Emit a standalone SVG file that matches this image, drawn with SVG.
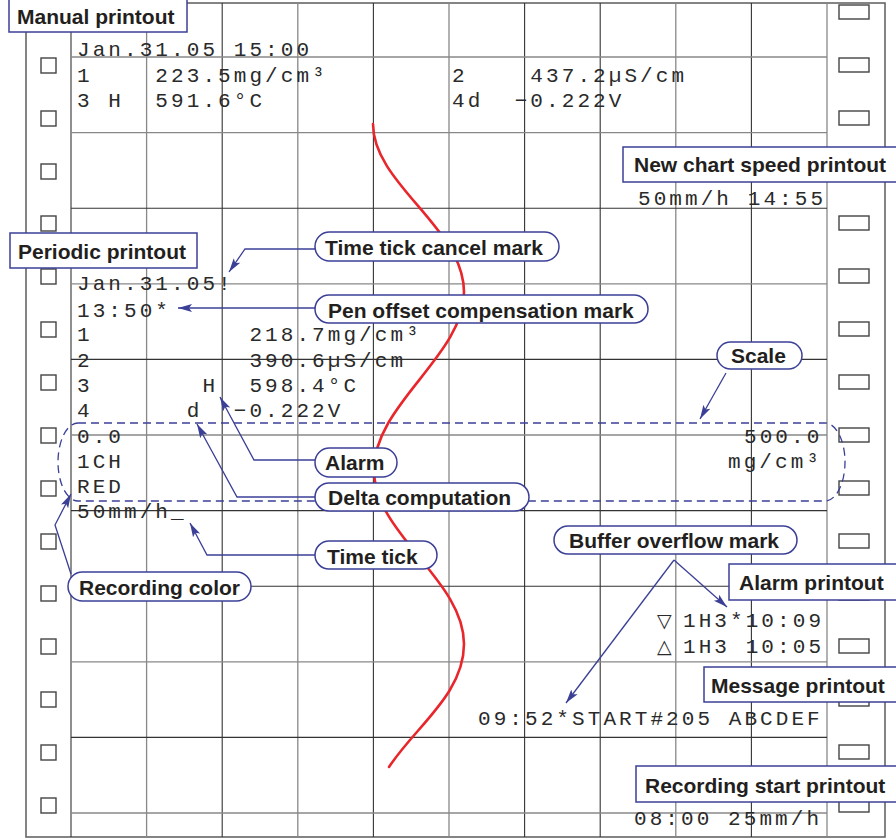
<svg xmlns="http://www.w3.org/2000/svg" width="896" height="839" viewBox="0 0 896 839">
<style>
.bg{fill:#fff}
.frame{fill:none;stroke:#666;stroke-width:1.6}
.gd{stroke:#333;stroke-width:1.1}
.gl{stroke:#888;stroke-width:1.3}
.hole{fill:#fff;stroke:#444;stroke-width:1.4}
.pen{fill:none;stroke:#e8262b;stroke-width:2.6;stroke-linecap:round}
.mono{font-family:"Liberation Mono","Courier New",monospace;font-size:21px;letter-spacing:3.07px;fill:#2a2a2a}
.sym{font-family:"DejaVu Sans",sans-serif;font-size:19px;fill:#2a2a2a}
.lbl{font-family:"Liberation Sans",Arial,sans-serif;font-weight:bold;font-size:21px;fill:#231f20}
.box{fill:#fff;stroke:#3b3f96;stroke-width:1.5}
.lead{fill:none;stroke:#3b3f96;stroke-width:1.3}
.dash{fill:none;stroke:#3b3f96;stroke-width:1.3;stroke-dasharray:8 5}
</style>
<defs>
<marker id="arr" viewBox="0 0 14 10" refX="14" refY="5" markerWidth="14" markerHeight="10" markerUnits="userSpaceOnUse" orient="auto">
<path d="M0,1 L14,5 L0,9 L3,5 z" fill="#3b3f96"/>
</marker>
</defs>
<rect class="bg" x="0" y="0" width="896" height="839"/>
<g id="chart-paper">
<rect class="frame" x="26" y="3" width="859" height="834"/>
<g id="grid-vertical">
<line class="gd" x1="71" y1="3" x2="71" y2="837"/>
<line class="gl" x1="146.6" y1="3" x2="146.6" y2="837"/>
<line class="gd" x1="222.2" y1="3" x2="222.2" y2="837"/>
<line class="gl" x1="297.8" y1="3" x2="297.8" y2="837"/>
<line class="gd" x1="373.4" y1="3" x2="373.4" y2="837"/>
<line class="gl" x1="449" y1="3" x2="449" y2="837"/>
<line class="gd" x1="524.6" y1="3" x2="524.6" y2="837"/>
<line class="gd" x1="600.2" y1="3" x2="600.2" y2="837"/>
<line class="gl" x1="675.8" y1="3" x2="675.8" y2="837"/>
<line class="gd" x1="751.4" y1="3" x2="751.4" y2="837"/>
<line class="gl" x1="827" y1="3" x2="827" y2="837"/>
</g>
<g id="grid-horizontal">
<line class="gl" x1="71" y1="57" x2="827" y2="57"/>
<line class="gl" x1="71" y1="132.6" x2="827" y2="132.6"/>
<line class="gd" x1="71" y1="208.2" x2="827" y2="208.2"/>
<line class="gl" x1="71" y1="283.8" x2="827" y2="283.8"/>
<line class="gd" x1="71" y1="359.4" x2="827" y2="359.4"/>
<line class="gl" x1="71" y1="435" x2="827" y2="435"/>
<line class="gd" x1="71" y1="510.6" x2="827" y2="510.6"/>
<line class="gd" x1="71" y1="586.2" x2="827" y2="586.2"/>
<line class="gl" x1="71" y1="661.8" x2="827" y2="661.8"/>
<line class="gd" x1="71" y1="737.4" x2="827" y2="737.4"/>
<line class="gl" x1="71" y1="813" x2="827" y2="813"/>
</g>
<g id="holes-left">
<rect class="hole" x="41" y="5" width="15" height="15"/>
<rect class="hole" x="41" y="58" width="15" height="15"/>
<rect class="hole" x="41" y="111" width="15" height="15"/>
<rect class="hole" x="41" y="164" width="15" height="15"/>
<rect class="hole" x="41" y="216" width="15" height="15"/>
<rect class="hole" x="41" y="269" width="15" height="15"/>
<rect class="hole" x="41" y="322" width="15" height="15"/>
<rect class="hole" x="41" y="375" width="15" height="15"/>
<rect class="hole" x="41" y="428" width="15" height="15"/>
<rect class="hole" x="41" y="481" width="15" height="15"/>
<rect class="hole" x="41" y="534" width="15" height="15"/>
<rect class="hole" x="41" y="586" width="15" height="15"/>
<rect class="hole" x="41" y="639" width="15" height="15"/>
<rect class="hole" x="41" y="692" width="15" height="15"/>
<rect class="hole" x="41" y="745" width="15" height="15"/>
<rect class="hole" x="41" y="798" width="15" height="15"/>
</g>
<g id="holes-right">
<rect class="hole" x="839" y="5" width="30" height="14"/>
<rect class="hole" x="839" y="58" width="30" height="14"/>
<rect class="hole" x="839" y="111" width="30" height="14"/>
<rect class="hole" x="839" y="164" width="30" height="14"/>
<rect class="hole" x="839" y="216" width="30" height="14"/>
<rect class="hole" x="839" y="269" width="30" height="14"/>
<rect class="hole" x="839" y="322" width="30" height="14"/>
<rect class="hole" x="839" y="375" width="30" height="14"/>
<rect class="hole" x="839" y="428" width="30" height="14"/>
<rect class="hole" x="839" y="481" width="30" height="14"/>
<rect class="hole" x="839" y="534" width="30" height="14"/>
<rect class="hole" x="839" y="586" width="30" height="14"/>
<rect class="hole" x="839" y="639" width="30" height="14"/>
<rect class="hole" x="839" y="692" width="30" height="14"/>
<rect class="hole" x="839" y="745" width="30" height="14"/>
<rect class="hole" x="839" y="798" width="30" height="14"/>
</g>
</g>
<path id="pen-trace" class="pen" d="M373,124 C373,184 464,228 464,292 C464,356 374,404 374,470 C374,534 464,580 464,644 C464,694 415,727 389,767"/>
<g id="printed-text">
<text class="mono" x="77" y="56">Jan.31.05 15:00</text>
<text class="mono" x="77" y="82" xml:space="preserve">1    223.5mg/cm³</text>
<text class="mono" x="77" y="107" xml:space="preserve">3 H  591.6°C</text>
<text class="mono" x="452" y="82" xml:space="preserve">2    437.2µS/cm</text>
<text class="mono" x="452" y="107" xml:space="preserve">4d  −0.222V</text>
<text class="mono" x="638" y="205">50mm/h 14:55</text>
<text class="mono" x="77" y="290">Jan.31.05!</text>
<text class="mono" x="77" y="317">13:50*</text>
<text class="mono" x="77" y="341" xml:space="preserve">1          218.7mg/cm³</text>
<text class="mono" x="77" y="367" xml:space="preserve">2          390.6µS/cm</text>
<text class="mono" x="77" y="392" xml:space="preserve">3       H  598.4°C</text>
<text class="mono" x="77" y="417" xml:space="preserve">4      d  −0.222V</text>
<text class="mono" x="77" y="443">0.0</text>
<text class="mono" x="77" y="468">1CH</text>
<text class="mono" x="77" y="493">RED</text>
<text class="mono" x="77" y="518">50mm/h_</text>
<text class="mono" x="744" y="443">500.0</text>
<text class="mono" x="728" y="468">mg/cm³</text>
<text class="sym" x="657" y="627">▽</text>
<text class="mono" x="683" y="627">1H3*10:09</text>
<text class="sym" x="657" y="653">△</text>
<text class="mono" x="683" y="653">1H3 10:05</text>
<text class="mono" x="478" y="725">09:52*START#205 ABCDEF</text>
<text class="mono" x="634" y="825">08:00 25mm/h</text>
</g>
<g id="connectors">
<rect class="dash" x="58" y="423" width="787" height="78" rx="20" ry="39"/>
<path class="lead" marker-end="url(#arr)" d="M315,249 L245,249 L229,272"/>
<path class="lead" marker-end="url(#arr)" d="M315,308 L178,308"/>
<path class="lead" marker-end="url(#arr)" d="M315,460 L254,460 L220,397"/>
<path class="lead" marker-end="url(#arr)" d="M315,497 L237,497 L197,424"/>
<path class="lead" marker-end="url(#arr)" d="M315,555 L207,555 L190,523"/>
<path class="lead" marker-end="url(#arr)" d="M71,574 L55,525 L71,494"/>
<path class="lead" marker-end="url(#arr)" d="M726,373 L700,419"/>
<path class="lead" marker-end="url(#arr)" d="M674,560 L727,607"/>
<path class="lead" marker-end="url(#arr)" d="M674,560 L566,703"/>
</g>
<g id="label-manual">
<rect class="box" x="9" y="-2" width="178" height="34"/>
<text class="lbl" x="17" y="24">Manual printout</text>
</g>
<g id="label-new-chart-speed">
<rect class="box" x="623" y="147" width="290" height="35"/>
<text class="lbl" x="634" y="172">New chart speed printout</text>
</g>
<g id="label-periodic">
<rect class="box" x="10" y="233" width="187" height="35"/>
<text class="lbl" x="18" y="259">Periodic printout</text>
</g>
<g id="label-time-tick-cancel">
<rect class="box" x="315" y="232" width="244" height="29" rx="14.5"/>
<text class="lbl" x="325" y="255">Time tick cancel mark</text>
</g>
<g id="label-pen-offset">
<rect class="box" x="315" y="295" width="333" height="28" rx="14"/>
<text class="lbl" x="328" y="318">Pen offset compensation mark</text>
</g>
<g id="label-scale">
<rect class="box" x="717" y="342" width="85" height="27" rx="13.5"/>
<text class="lbl" x="731" y="363">Scale</text>
</g>
<g id="label-alarm">
<rect class="box" x="315" y="448" width="82" height="29" rx="14.5"/>
<text class="lbl" x="325" y="470">Alarm</text>
</g>
<g id="label-delta">
<rect class="box" x="315" y="483" width="214" height="28" rx="14"/>
<text class="lbl" x="328" y="505">Delta computation</text>
</g>
<g id="label-time-tick">
<rect class="box" x="315" y="541" width="122" height="28" rx="14"/>
<text class="lbl" x="327" y="564">Time tick</text>
</g>
<g id="label-recording-color">
<rect class="box" x="68" y="572" width="183" height="29" rx="14.5"/>
<text class="lbl" x="79" y="595">Recording color</text>
</g>
<g id="label-buffer-overflow">
<rect class="box" x="554" y="526" width="243" height="28" rx="14"/>
<text class="lbl" x="569" y="548">Buffer overflow mark</text>
</g>
<g id="label-alarm-printout">
<rect class="box" x="729" y="564" width="190" height="36"/>
<text class="lbl" x="739" y="590">Alarm printout</text>
</g>
<g id="label-message-printout">
<rect class="box" x="704" y="667" width="215" height="35"/>
<text class="lbl" x="711" y="693">Message printout</text>
</g>
<g id="label-recording-start">
<rect class="box" x="636" y="766" width="283" height="36"/>
<text class="lbl" x="645" y="793">Recording start printout</text>
</g>
</svg>
